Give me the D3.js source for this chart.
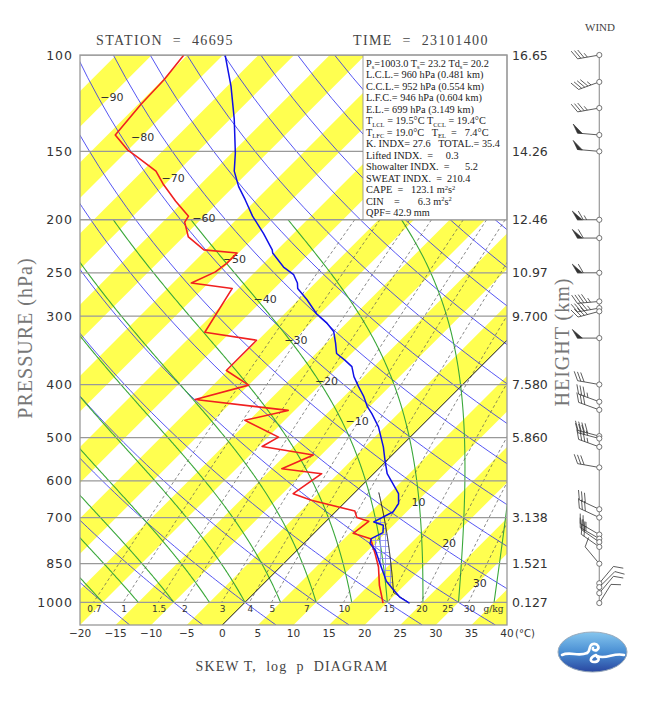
<!DOCTYPE html>
<html><head><meta charset="utf-8">
<script src="https://cdnjs.cloudflare.com/ajax/libs/d3/7.8.5/d3.min.js"></script>
<style>body{margin:0;background:#fff}text{white-space:pre}</style>
</head><body><svg id="c" width="650" height="702" xmlns="http://www.w3.org/2000/svg"></svg>
<script>
// ---------------- DATA ----------------
const pressureTicks = [100,150,200,250,300,400,500,600,700,850,1000];
const heightLabels  = ["16.65","14.26","12.46","10.97","9.700","7.580","5.860","","3.138","1.521","0.127"];
const tempTicks = [-20,-15,-10,-5,0,5,10,15,20,25,30,35,40];
const mixingRatios = [0.7,1,1.5,2,3,4,5,7,10,15,20,25,30];
const dryAdiabatThetas = [-30,-20,-10,0,10,20,30,40,50,60,70,80,90,100,110,120,130,140,150,160,170,180,190,200];
const moistStartTemps = [-20,-15,-10,-5,0,5,10,15,20,25,30,35,40];
const isothermLabelTemps = [-90,-80,-70,-60,-50,-40,-30,-20,-10,10,20,30];

const tempPressure = [100,114,131,151,163,174,184,197,212,227,230,244,252,261,267,280,297,309,320,336,351,361,371,387,404,421,439,452,478,520,550,582,633,660,683,713,723,746,765,781,803,849,915,950,978,1003];
const tempValues   = [-79.7,-74.5,-69.4,-64.5,-62.1,-59.3,-56.5,-53.2,-49.2,-45.7,-45.2,-41.7,-39.2,-37.5,-36.7,-33.8,-30.5,-27.7,-25.6,-23.7,-22.1,-20.0,-18.1,-16.4,-14.3,-12.2,-10.3,-8.7,-5.9,-2.4,-0.3,1.9,6.3,7.7,8.1,6.8,8.6,9.6,8.8,9.3,11.0,13.5,16.9,19.2,21.0,23.2];

const dewPressure = [100,111,123,140,149,153,163,172,185,197,202,215,227,230,240,249,261,267,321,332,377,401,426,446,465,499,519,538,570,582,633,651,681,700,711,748,765,814,862,931,971,1003];
const dewValues   = [-85.5,-84.8,-84.6,-83.9,-80.1,-78.0,-73.1,-70.3,-66.1,-62.2,-61.9,-59.3,-55.3,-50.2,-50.2,-50.6,-52.4,-45.9,-43.6,-35.2,-35.2,-30.0,-35.5,-20.9,-25.6,-18.5,-19.5,-11.1,-13.6,-7.3,-8.5,-5.0,2.6,3.8,6.0,5.5,8.7,11.4,13.8,16.5,18.2,19.5];

const windPressure = [100,112,125,140,150,200,216,250,282,290,294,329,400,430,445,497,502,520,567,676,700,752,765,776,792,850,923,938,962,1003];
const windDir      = [260,250,260,275,275,270,270,270,265,260,255,270,280,290,290,285,285,290,280,295,295,300,300,305,305,320,40,45,40,32];
const windSpeed    = [35,45,35,50,50,65,60,60,45,45,40,50,30,35,30,40,35,35,30,30,30,25,25,20,20,10,10,10,10,10];

const surfaceP = 1003.0, surfaceT = 23.2, lclP = 960, lfcP = 946, elP = 699, parcelTopP = 630;

const titleStation = "STATION = 46695";
const titleTime = "TIME = 23101400";
const infoLines = [
  [["P"],["s","sub"],["=1003.0 T"],["s","sub"],["= 23.2 Td"],["s","sub"],["= 20.2"]],
  [["L.C.L.= 960 hPa (0.481 km)"]],
  [["C.C.L.= 952 hPa (0.554 km)"]],
  [["L.F.C.= 946 hPa (0.604 km)"]],
  [["E.L.= 699 hPa (3.149 km)"]],
  [["T"],["LCL","sub"],[" = 19.5°C T"],["CCL","sub"],[" = 19.4°C"]],
  [["T"],["LFC","sub"],[" = 19.0°C   T"],["EL","sub"],["  =   7.4°C"]],
  [["K. INDX= 27.6   TOTAL.= 35.4"]],
  [["Lifted INDX.  =     0.3"]],
  [["Showalter INDX.  =      5.2"]],
  [["SWEAT INDX.  =  210.4"]],
  [["CAPE  =   123.1 m"],["2","sup"],["s"],["2","sup"]],
  [["CIN    =       6.3 m"],["2","sup"],["s"],["2","sup"]],
  [["QPF= 42.9 mm"]]
];

// ---------------- SCALES ----------------
const L = 80, R = 507, T0 = 55, B = 625;
const y = d3.scaleLog().domain([100,1100]).range([T0,B]);
const xT = d3.scaleLinear().domain([-20,40]).range([L,R]);
const sx = (t,p) => xT(t) + (B - y(p));

const svg = d3.select("#c");
const defs = svg.append("defs");
defs.append("clipPath").attr("id","plotclip").append("rect").attr("x",L).attr("y",T0).attr("width",R-L).attr("height",B-T0);
const pat = defs.append("pattern").attr("id","hatch").attr("width",5).attr("height",6).attr("patternUnits","userSpaceOnUse");
pat.append("path").attr("d","M0 0.5H5M0.5 0V6").attr("stroke","#8c8cf5").attr("stroke-width",0.8).attr("fill","none");
const lg = defs.append("linearGradient").attr("id","logoGrad").attr("x1",0).attr("y1",0).attr("x2",0).attr("y2",1);
lg.append("stop").attr("offset","0%").attr("stop-color","#86c6ee");
lg.append("stop").attr("offset","50%").attr("stop-color","#4a8fd4");
lg.append("stop").attr("offset","100%").attr("stop-color","#2a47a0");

const plot = svg.append("g").attr("clip-path","url(#plotclip)");
plot.append("rect").attr("x",L).attr("y",T0).attr("width",R-L).attr("height",B-T0).attr("fill","#fff");

// yellow isotherm bands
const bandStarts = d3.range(-95,45,10);
plot.selectAll("path.band").data(bandStarts).enter().append("path")
  .attr("d", a => { const pts=[[sx(a,1100),y(1100)],[sx(a+5,1100),y(1100)],[sx(a+5,100),y(100)],[sx(a,100),y(100)]];
     return "M"+pts.map(p=>p.join(",")).join("L")+"Z"; })
  .attr("fill","#ffff50");

// dry adiabats
const pLevelsAll = d3.range(100,1101,10);
const line = d3.line().x(d=>sx(d[1],d[0])).y(d=>y(d[0]));
plot.selectAll("path.dry").data(dryAdiabatThetas).enter().append("path")
  .attr("d", th => line(pLevelsAll.map(p => [p, (th+273.15)*Math.pow(p/1000,0.2857)-273.15])))
  .attr("fill","none").attr("stroke","#2a2af0").attr("stroke-width",0.8);

// moist adiabats
const Rd=287.04, Cp=1005.7, Lv=2.501e6, eps=0.622;
const es = tc => 6.112*Math.exp(17.67*tc/(tc+243.5));
function moistDT(tc,p){ const Tk=tc+273.15, e=es(tc), rs=eps*e/(p-e);
  return (Rd*Tk+Lv*rs)/(Cp+Lv*Lv*rs*eps/(Rd*Tk*Tk))/p; }
function moistPath(t0,p0,p1){ let t=t0,p=p0; const pts=[[p,t]];
  while(p>p1+1e-9){ const h=Math.max(-2,p1-p); const k1=moistDT(t,p); const k2=moistDT(t+k1*h/2,p+h/2); t+=k2*h; p+=h; pts.push([p,t]); }
  return pts; }
plot.selectAll("path.moist").data(moistStartTemps).enter().append("path")
  .attr("d", t0 => line(moistPath(t0,1000,200)))
  .attr("fill","none").attr("stroke","#3aa83a").attr("stroke-width",1.1);

// mixing ratio lines
const tdFromW = (w,p) => { const e=w*p/(622+w); const l=Math.log(e/6.112); return 243.5*l/(17.67-l); };
const pMix = d3.range(200,1001,10);
plot.selectAll("path.mix").data(mixingRatios).enter().append("path")
  .attr("d", w => line(pMix.map(p=>[p,tdFromW(w,p)])))
  .attr("fill","none").attr("stroke","#555").attr("stroke-width",0.7).attr("stroke-dasharray","3,2.5");

// 0C isotherm
plot.append("path").attr("d", line([[1100,0],[100,0]])).attr("stroke","#111").attr("stroke-width",1).attr("fill","none");

// pressure gridlines
plot.selectAll("line.pg").data(pressureTicks).enter().append("line")
  .attr("x1",L).attr("x2",R).attr("y1",d=>y(d)).attr("y2",d=>y(d)).attr("stroke","#999").attr("stroke-width",1.3);

// isotherm labels
const lnTop = Math.log(119.3), lnBot = Math.log(922);
plot.selectAll("text.iso").data(isothermLabelTemps).enter().append("text")
  .attr("x", t => { const p=Math.exp(lnTop+(lnBot-lnTop)*(t+90)/120); return sx(t,p)+2; })
  .attr("y", t => { const p=Math.exp(lnTop+(lnBot-lnTop)*(t+90)/120); return y(p)+4; })
  .attr("text-anchor","middle").attr("font-family","DejaVu Sans").attr("font-size",11).attr("fill","#333")
  .text(t => t<0 ? "\u2212"+Math.abs(t) : String(t));

// mixing ratio labels
plot.selectAll("text.mix").data(mixingRatios).enter().append("text")
  .attr("x", w => sx(tdFromW(w,1000),1000)+1).attr("y", y(1000)+10)
  .attr("text-anchor","middle").attr("font-family","DejaVu Sans").attr("font-size",9).attr("fill","#333")
  .text(d=>d);
plot.append("text").attr("x", sx(tdFromW(30,1000),1000)+25).attr("y", y(1000)+10)
  .attr("text-anchor","middle").attr("font-family","DejaVu Serif").attr("font-size",9).attr("fill","#333").text("g/kg");

// CAPE hatch
const envScale = d3.scaleLinear().domain(tempPressure.map(Math.log)).range(tempValues);
const dryTheta = (surfaceT+273.15)*Math.pow(1000/surfaceP,0.2857);
const dryPts = d3.range(surfaceP, lclP-0.01, -1).map(p=>[p, dryTheta*Math.pow(p/1000,0.2857)-273.15]);
const tLcl = dryTheta*Math.pow(lclP/1000,0.2857)-273.15;
const moistPts = moistPath(tLcl, lclP, parcelTopP);
const parcel = dryPts.concat(moistPts.slice(1));
const parcelAsc = parcel.slice().reverse();
const parScale = d3.scaleLinear().domain(parcelAsc.map(d=>Math.log(d[0]))).range(parcelAsc.map(d=>d[1]));
const capeYs = d3.range(y(elP), y(lfcP)+0.01, 0.5);
const capeArea = d3.area()
  .y(yy=>yy)
  .x0(yy=>{ const p=y.invert(yy); return sx(envScale(Math.log(p)),p); })
  .x1(yy=>{ const p=y.invert(yy); return sx(Math.max(envScale(Math.log(p)),parScale(Math.log(p))),p); });
plot.append("path").attr("d",capeArea(capeYs)).attr("fill","url(#hatch)").attr("stroke","none");

// parcel path
plot.append("path").attr("d",line(parcel)).attr("fill","none").attr("stroke","#111").attr("stroke-width",1);

// dewpoint & temperature
plot.append("path").attr("d",line(dewPressure.map((p,i)=>[p,dewValues[i]])))
  .attr("fill","none").attr("stroke","#f02020").attr("stroke-width",1.6).attr("stroke-linejoin","round");
plot.append("path").attr("d",line(tempPressure.map((p,i)=>[p,tempValues[i]])))
  .attr("fill","none").attr("stroke","#1010e8").attr("stroke-width",1.5).attr("stroke-linejoin","round");

// info box
const box = svg.append("g");
box.append("rect").attr("x",363).attr("y",T0).attr("width",R-363).attr("height",y(200)-T0).attr("fill","#fff").attr("stroke","#888").attr("stroke-width",0.8);
infoLines.forEach((segs,i)=>{
  const t = box.append("text").attr("x",366).attr("y",66.8+i*11.5).attr("font-family","Liberation Serif").attr("font-size",10.3).attr("fill","#222");
  let cur = 0;
  segs.forEach(s=>{
    const target = s[1]==="sub" ? 2.5 : (s[1]==="sup" ? -3.5 : 0);
    const ts = t.append("tspan").attr("dy", target-cur).text(s[0]);
    if(s[1]) ts.attr("font-size",6.5);
    cur = target;
  });
});

// frame
svg.append("rect").attr("x",L).attr("y",T0).attr("width",R-L).attr("height",B-T0).attr("fill","none").attr("stroke","#999").attr("stroke-width",1.3);

// axes labels
svg.selectAll("text.pl").data(pressureTicks).enter().append("text")
  .attr("x",73).attr("y",d=>y(d)+4.5).attr("text-anchor","end").attr("font-family","DejaVu Sans").attr("font-size",12.5)
  .attr("letter-spacing",1).attr("fill","#333").text(d=>d);
svg.selectAll("text.hl").data(pressureTicks).enter().append("text")
  .attr("x",512).attr("y",d=>y(d)+4.5).attr("font-family","DejaVu Sans").attr("font-size",12.5)
  .attr("fill","#333").text((d,i)=>heightLabels[i]);
svg.selectAll("text.tl").data(tempTicks).enter().append("text")
  .attr("x",d=>xT(d)).attr("y",636.5).attr("text-anchor","middle").attr("font-family","DejaVu Sans").attr("font-size",10.5)
  .attr("fill","#333").text(d=> d<0 ? "\u2212"+Math.abs(d) : d);
svg.append("text").attr("x",515).attr("y",636.5).attr("font-family","DejaVu Sans").attr("font-size",10).attr("fill","#333").text("(°C)");

svg.append("text").attr("x",96).attr("y",45).attr("font-family","Liberation Serif").attr("font-size",14).attr("letter-spacing",1.4).attr("fill","#444").text(titleStation.replace(" = ","  =  "));
svg.append("text").attr("x",353).attr("y",45).attr("font-family","Liberation Serif").attr("font-size",14).attr("letter-spacing",1.4).attr("fill","#444").text(titleTime.replace(" = ","  =  "));
svg.append("text").attr("transform","translate(32,338) rotate(-90)").attr("text-anchor","middle").attr("font-family","Liberation Serif").attr("font-size",20).attr("letter-spacing",1).attr("fill","#777").text("PRESSURE (hPa)");
svg.append("text").attr("transform","translate(569,342) rotate(-90)").attr("text-anchor","middle").attr("font-family","Liberation Serif").attr("font-size",20).attr("letter-spacing",1).attr("fill","#777").text("HEIGHT (km)");
svg.append("text").attr("x",292).attr("y",671).attr("text-anchor","middle").attr("font-family","Liberation Serif").attr("font-size",14).attr("letter-spacing",1.1).attr("fill","#444").text("SKEW T,  log  p  DIAGRAM");
svg.append("text").attr("x",600).attr("y",31).attr("text-anchor","middle").attr("font-family","Liberation Serif").attr("font-size",11).attr("fill","#444").text("WIND");

// wind profile
const wx = 599.3;
const wind = svg.append("g");
wind.append("line").attr("x1",wx).attr("x2",wx).attr("y1",y(100)).attr("y2",y(surfaceP)).attr("stroke","#999").attr("stroke-width",1.2);
windPressure.forEach((p,i)=>{
  const cy=y(p), dir=windDir[i]*Math.PI/180, spd=windSpeed[i];
  const ux=Math.sin(dir), uy=-Math.cos(dir);
  const a=60*Math.PI/180, fx=ux*Math.cos(a)-uy*Math.sin(a), fy=ux*Math.sin(a)+uy*Math.cos(a);
  const Ls=22, tx=wx+ux*Ls, ty=cy+uy*Ls;
  let d=`M${wx},${cy}L${tx},${ty}`;
  let s=Math.round(spd/5)*5, pos=0;
  const n50=Math.floor(s/50); s-=n50*50; const n10=Math.floor(s/10); const n5=(s-n10*10)>=5;
  let tri="";
  for(let k=0;k<n50;k++){ const bx=tx-ux*pos, by=ty-uy*pos; const cx2=tx-ux*(pos+5), cy2=ty-uy*(pos+5);
    tri+=`M${bx},${by}L${bx+fx*10},${by+fy*10}L${cx2},${cy2}Z`; pos+=6; }
  for(let k=0;k<n10;k++){ const bx=tx-ux*pos, by=ty-uy*pos; d+=`M${bx},${by}L${bx+fx*10},${by+fy*10}`; pos+=3.3; }
  if(n5){ if(pos===0) pos=3.3; const bx=tx-ux*pos, by=ty-uy*pos; d+=`M${bx},${by}L${bx+fx*5},${by+fy*5}`; }
  wind.append("path").attr("d",d).attr("fill","none").attr("stroke","#333").attr("stroke-width",0.8);
  if(tri) wind.append("path").attr("d",tri).attr("fill","#333").attr("stroke","#333").attr("stroke-width",0.6);
  wind.append("circle").attr("cx",wx).attr("cy",cy).attr("r",2.6).attr("fill","#fff").attr("stroke","#555").attr("stroke-width",0.8);
});

// logo
const logo = svg.append("g");
logo.append("ellipse").attr("cx",592.5).attr("cy",652).attr("rx",34.5).attr("ry",20).attr("fill","url(#logoGrad)").attr("stroke","#9ab","stroke-width",0.5);
const swirl = [
  "M562,655 C570,651 578,657 587,653",
  "M587,653 C591,651 588,645 593,644 C598,643 600,648 597,650 C595,651 592,650 593,648",
  "M596,655 C590,657 589,662 594,662 C599,662 600,658 597,657",
  "M597,656 C606,660 614,652 624,655"
];
logo.selectAll("path.sw").data(swirl).enter().append("path").attr("d",d=>d)
  .attr("fill","none").attr("stroke","#fff").attr("stroke-width",2.6).attr("stroke-linecap","round");
</script></body></html>
